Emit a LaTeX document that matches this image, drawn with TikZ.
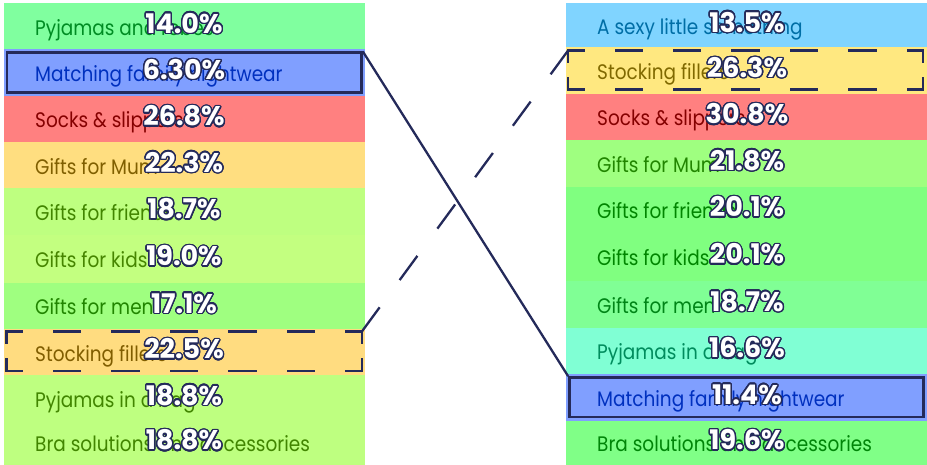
\documentclass[tikz,border=0pt]{standalone}
\usepackage{fontspec}
\usepackage{contour}
\newfontfamily\labfont[FakeStretch=0.88]{Poppins}
\newfontfamily\pctfont{Poppins}
\contourlength{1.4pt}
\contournumber{24}
\definecolor{navy}{RGB}{36,42,90}
\definecolor{hmint}{RGB}{0,255,64}
\definecolor{hblue}{RGB}{0,64,255}
\definecolor{hred}{RGB}{255,0,0}
\definecolor{hamber}{RGB}{255,189,0}
\definecolor{hamberb}{RGB}{255,185,0}
\definecolor{hlime}{RGB}{125,255,0}
\definecolor{hlimeb}{RGB}{135,255,0}
\definecolor{hgrass}{RGB}{64,255,0}
\definecolor{hsky}{RGB}{0,169,255}
\definecolor{hgold}{RGB}{255,209,0}
\definecolor{hgreen}{RGB}{0,255,0}
\definecolor{hgreenb}{RGB}{0,255,44}
\definecolor{hgreenc}{RGB}{0,255,16}
\definecolor{haqua}{RGB}{0,255,169}
\tikzset{
  lab/.style={anchor=base west, inner sep=0pt, font=\labfont\fontsize{21}{21}\selectfont},
  pct/.style={anchor=base, inner sep=0pt, text=white, font=\pctfont\bfseries\fontsize{27}{27}\selectfont},
  hibox/.style={draw=navy, line width=2.4pt, inner sep=0pt},
  dashbox/.style={inner sep=0pt},
  link/.style={navy, line width=2.3pt},
  dashh/.style={navy, line width=2.4pt, line cap=rect, dash pattern=on 26pt off 32.4pt, dash phase=10.7pt},
  dashv/.style={navy, line width=2.4pt, line cap=rect, dash pattern=on 23.3pt off 15.7pt, dash phase=11.65pt}
}
% four sides of a dashed frame, each with its own dashes
\newcommand\dashframe[1]{%
  \draw[dashh] (#1.north west) -- (#1.north east);
  \draw[dashh] (#1.south west) -- (#1.south east);
  \draw[dashv] (#1.north west) -- (#1.south west);
  \draw[dashv] (#1.north east) -- (#1.south east);}
\begin{document}
\begin{tikzpicture}[x=1pt,y=-1pt]
\useasboundingbox (0,0) rectangle (927,465);
% left list
\foreach \t/\b/\h/\k/\txt/\p [count=\i] in {
  3/49.3/hmint/55/Pyjamas and robes/14.0,
  49.3/95.7/hblue/75/Matching family nightwear/6.30,
  95.7/142.3/hred/52/Socks \& slippers/26.8,
  142.3/188.3/hamber/50/Gifts for Mum/22.3,
  188.3/235/hlime/52/Gifts for friends/18.7,
  235/283/hlimeb/52/Gifts for kids/19.0,
  283/329/hgrass/52/Gifts for men/17.1,
  329/375/hamberb/50/Stocking fillers/22.5,
  375/421/hlime/52/Pyjamas in a bag/18.8,
  421/464.7/hlime/52/Bra solutions and accessories/18.8}{
  \fill[\h!50!white] (4,\t) rectangle (365,\b);
  \node[lab, text=\h!\k!black] (ltxt\i) at (35,{(\t+\b)/2+9}) {\txt};
  \node[pct] (lpct\i) at (184,{(\t+\b)/2+7}) {\contour{navy}{\p\%}};
}
% right list
\foreach \t/\b/\h/\k/\txt/\p [count=\i] in {
  3/47.3/hsky/65/A sexy little something/13.5,
  47.3/93.7/hgold/50/Stocking fillers/26.3,
  93.7/140/hred/52/Socks \& slippers/30.8,
  140/186.7/hgrass/52/Gifts for Mum/21.8,
  186.7/233/hgreen/52/Gifts for friends/20.1,
  233/281/hgreen/52/Gifts for kids/20.1,
  281/327.7/hgreenb/52/Gifts for men/18.7,
  327.7/374/haqua/55/Pyjamas in a bag/16.6,
  374/420.7/hblue/75/Matching family nightwear/11.4,
  420.7/464.7/hgreenc/52/Bra solutions and accessories/19.6}{
  \fill[\h!50!white] (566,\t) rectangle (927,\b);
  \node[lab, text=\h!\k!black] (rtxt\i) at (597,{(\t+\b)/2+9}) {\txt};
  \node[pct] (rpct\i) at (747,{(\t+\b)/2+7}) {\contour{navy}{\p\%}};
}
% highlighted rows
\node[hibox, minimum width=354.7, minimum height=40] (lmatch) at (184.3,72.7) {};
\node[hibox, minimum width=354, minimum height=39.7] (rmatch) at (746.3,397.2) {};
\node[dashbox, minimum width=355, minimum height=39] (lstock) at (184.2,351.2) {};
\node[dashbox, minimum width=354.4, minimum height=38.6] (rstock) at (745.5,70) {};
\dashframe{lstock}
\dashframe{rstock}
\draw[link] (lmatch.north east) -- (rmatch.north west);
\draw[link, dash pattern=on 30pt off 33.8pt] (lstock.north east) -- (rstock.north west);
\end{tikzpicture}
\end{document}
